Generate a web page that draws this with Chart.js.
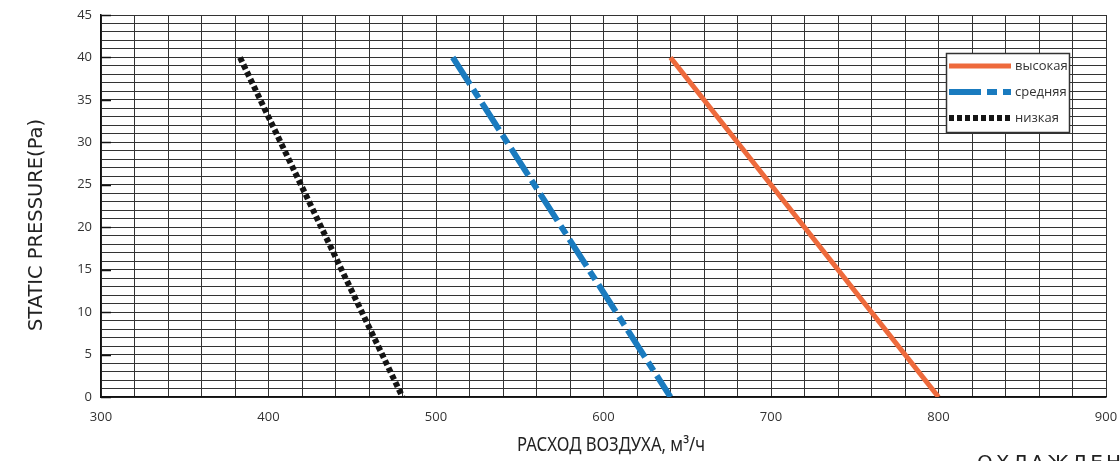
<!DOCTYPE html>
<html>
<head>
<meta charset="utf-8">
<script src="https://cdn.jsdelivr.net/npm/chart.js@4/dist/chart.umd.min.js"></script>
<style>
    html, body { margin: 0; background: #fff; }
    #wrap { width: 1120px; height: 461px; position: relative; }
</style>
</head>
<body>
<div id="wrap"><canvas id="myChart"></canvas></div>
<script>
// values
const pressure = [40, 0];            // Pa
const flowHigh = [640, 800];         // м3/ч, высокая
const flowMid = [510, 640];          // средняя
const flowLow = [383, 480];          // низкая
const seriesNames = ['высокая', 'средняя', 'низкая'];
const xTicks = [300, 400, 500, 600, 700, 800, 900];
const yTicks = [0, 5, 10, 15, 20, 25, 30, 35, 40, 45];

const pts = (xs) => xs.map((x, i) => ({ x: x, y: pressure[i] }));

// text that has to be squeezed/stretched to a given width
function fitText(ctx, text, x, y, width) {
    const w = ctx.measureText(text).width;
    ctx.save();
    ctx.translate(x, y);
    ctx.scale(width / w, 1);
    ctx.fillText(text, 0, 0);
    ctx.restore();
}

const extras = {
    id: 'extras',
    afterDatasetsDraw(chart) {
        const { ctx, chartArea: a, scales } = chart;
        ctx.save();

        // short inward tick marks at labelled values
        ctx.strokeStyle = '#111';
        ctx.lineWidth = 1.5;
        yTicks.forEach(v => {
            const y = Math.round(scales.y.getPixelForValue(v)) + 0.5;
            ctx.beginPath();
            ctx.moveTo(a.left, y);
            ctx.lineTo(a.left + 10, y);
            ctx.stroke();
        });

        // legend box inside the plot
        const bx = 946, by = 53, bw = 123, bh = 79;
        ctx.fillStyle = '#fff';
        ctx.fillRect(bx, by, bw, bh);
        ctx.strokeStyle = '#333';
        ctx.lineWidth = 1.5;
        ctx.strokeRect(bx + 0.5, by + 0.5, bw, bh);
        chart.data.datasets.forEach((ds, i) => {
            const y = 66 + i * 26;
            ctx.save();
            ctx.strokeStyle = ds.borderColor;
            ctx.lineWidth = ds.borderWidth;
            ctx.setLineDash(ds.borderDash || []);
            ctx.lineCap = 'butt';
            ctx.beginPath();
            ctx.moveTo(949, y);
            ctx.lineTo(1011, y);
            ctx.stroke();
            ctx.restore();
            ctx.fillStyle = '#333';
            ctx.font = '13px "Open Sans"';
            ctx.textAlign = 'left';
            ctx.textBaseline = 'middle';
            ctx.fillText(ds.label, 1015, y);
        });

        // axis titles
        ctx.fillStyle = '#222';
        ctx.textAlign = 'center';
        ctx.textBaseline = 'alphabetic';
        ctx.font = '19px "Noto Sans"';
        fitText(ctx, 'РАСХОД ВОЗДУХА, м³/ч', 611, 451, 188);

        ctx.save();
        ctx.translate(42, 225);
        ctx.rotate(-Math.PI / 2);
        ctx.font = '20px "DejaVu Sans"';
        fitText(ctx, 'STATIC PRESSURE(Pa)', 0, 0, 212);
        ctx.restore();

        // caption cut off by the bottom edge
        ctx.font = '20px "DejaVu Sans"';
        ctx.textAlign = 'left';
        ctx.textBaseline = 'top';
        ctx.letterSpacing = '3px';
        ctx.fillText('ОХЛАЖДЕНИЕ', 977, 454);

        ctx.restore();
    }
};

document.addEventListener('DOMContentLoaded', () => {
    const canvas = document.getElementById('myChart');
    const ctx = canvas.getContext('2d');

    new Chart(ctx, {
        type: 'line',
        data: {
            datasets: [
                {
                    label: seriesNames[0],
                    data: pts(flowHigh),
                    borderColor: '#ee6a3c',
                    borderWidth: 5,
                    pointRadius: 0,
                    fill: false
                },
                {
                    label: seriesNames[1],
                    data: pts(flowMid),
                    borderColor: '#1a7bbf',
                    borderWidth: 6,
                    borderDash: [32, 6, 10, 6],
                    pointRadius: 0,
                    fill: false
                },
                {
                    label: seriesNames[2],
                    data: pts(flowLow),
                    borderColor: '#151515',
                    borderWidth: 6,
                    borderDash: [5, 3],
                    pointRadius: 0,
                    fill: false
                }
            ]
        },
        options: {
            responsive: true,
            maintainAspectRatio: false,
            animation: false,
            layout: { padding: { top: 15, right: 14, left: 0, bottom: 0 } },
            plugins: {
                legend: { display: false },
                tooltip: { enabled: false }
            },
            scales: {
                x: {
                    type: 'linear',
                    min: 300,
                    max: 900,
                    afterFit: s => {
                        s.height = 64;
                        s.paddingLeft = 0;
                        s.paddingRight = 0;
                    },
                    afterBuildTicks: s => {
                        const t = [];
                        for (let v = 300; v <= 900; v += 20) t.push({ value: v });
                        s.ticks = t;
                    },
                    ticks: {
                        autoSkip: false,
                        maxRotation: 0,
                        padding: 12,
                        color: '#333',
                        font: { family: 'Open Sans', size: 13 },
                        callback: v => xTicks.includes(v) ? v : ''
                    },
                    grid: { color: '#333', lineWidth: 1, drawTicks: false },
                    border: { color: '#111', width: 1.5 }
                },
                y: {
                    type: 'linear',
                    min: 0,
                    max: 45,
                    afterFit: s => {
                        s.width = 101;
                        s.paddingTop = 0;
                        s.paddingBottom = 0;
                    },
                    ticks: {
                        stepSize: 1,
                        autoSkip: false,
                        padding: 9,
                        color: '#333',
                        font: { family: 'Open Sans', size: 13 },
                        callback: v => yTicks.includes(v) ? v : ''
                    },
                    grid: { color: '#333', lineWidth: 1, drawTicks: false },
                    border: { color: '#111', width: 1.5 }
                }
            }
        },
        plugins: [extras]
    });
});
</script>
</body>
</html>
